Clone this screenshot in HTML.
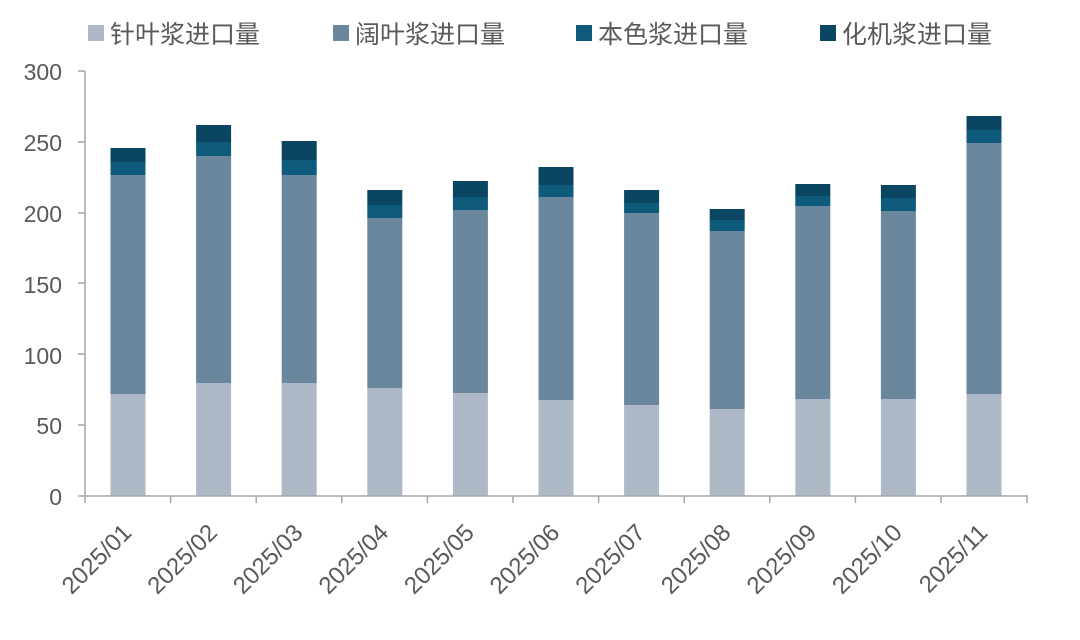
<!DOCTYPE html>
<html><head><meta charset="utf-8"><style>
html,body{margin:0;padding:0;background:#fff;}
svg{display:block;font-family:"Liberation Sans","Noto Sans CJK SC",sans-serif;}
</style></head><body>
<svg width="1080" height="640" viewBox="0 0 1080 640">
<g font-size="25" fill="#595959">
<rect x="88" y="25" width="16" height="16" fill="#adb9c7"/><text x="110" y="43">针叶浆进口量</text>
<rect x="333" y="25" width="16" height="16" fill="#6a879d"/><text x="355" y="43">阔叶浆进口量</text>
<rect x="576" y="25" width="16" height="16" fill="#0e5a7a"/><text x="598" y="43">本色浆进口量</text>
<rect x="820" y="25" width="16" height="16" fill="#0a4561"/><text x="842" y="43">化机浆进口量</text>
</g>
<g font-size="23" fill="#595959" text-anchor="end">
<text x="62" y="80">300</text><text x="62" y="151">250</text><text x="62" y="222">200</text>
<text x="62" y="293">150</text><text x="62" y="364">100</text><text x="62" y="434">50</text><text x="62" y="505">0</text>
</g>
<g id="bars"></g>
<line x1="85" y1="71" x2="85" y2="496" stroke="#a6a6a6" stroke-width="1.5"/>
<line x1="78" y1="496" x2="1028" y2="496" stroke="#a6a6a6" stroke-width="1.5"/>
<g stroke="#a6a6a6" stroke-width="1.5">
<line x1="78" y1="71" x2="85" y2="71"/><line x1="78" y1="142" x2="85" y2="142"/><line x1="78" y1="213" x2="85" y2="213"/>
<line x1="78" y1="283" x2="85" y2="283"/><line x1="78" y1="354" x2="85" y2="354"/><line x1="78" y1="425" x2="85" y2="425"/>
</g>
<g id="ticks" stroke="#a6a6a6" stroke-width="1.5"></g>
<g id="xl" font-size="24" fill="#595959" text-anchor="end"></g>
</svg>
<script>
var d=[[148,162,175,394],[125,142,156,383],[141,160,175,383],[190,205,218,388],[181,197,210,393],[167,185,197,400],[190,203,213,405],[209,220,231,409],[184,196,206,399],[185,198,211,399],[116,130,143,394]];
var ns="http://www.w3.org/2000/svg",b=document.getElementById("bars"),t=document.getElementById("ticks"),xl=document.getElementById("xl");
function r(x,y,h,c){var e=document.createElementNS(ns,"rect");e.setAttribute("x",x);e.setAttribute("y",y);e.setAttribute("width",35);e.setAttribute("height",h);e.setAttribute("fill",c);b.appendChild(e);}
for(var i=0;i<11;i++){var cx=128+i*85.6,x=cx-17.5,v=d[i];
r(x,v[0],v[1]-v[0],"#0a4561");r(x,v[1],v[2]-v[1],"#0e5a7a");r(x,v[2],v[3]-v[2],"#6a879d");r(x,v[3],496-v[3],"#adb9c7");
var l=document.createElementNS(ns,"line");var tx=85+i*85.6;l.setAttribute("x1",tx);l.setAttribute("x2",tx);l.setAttribute("y1",496);l.setAttribute("y2",503);t.appendChild(l);
var s=document.createElementNS(ns,"text");s.setAttribute("transform","translate("+(cx+5)+",534) rotate(-45)");s.textContent="2025/"+(i<9?"0":"")+(i+1);xl.appendChild(s);}
var l2=document.createElementNS(ns,"line");l2.setAttribute("x1",1027);l2.setAttribute("x2",1027);l2.setAttribute("y1",496);l2.setAttribute("y2",503);t.appendChild(l2);
</script>
</body></html>
